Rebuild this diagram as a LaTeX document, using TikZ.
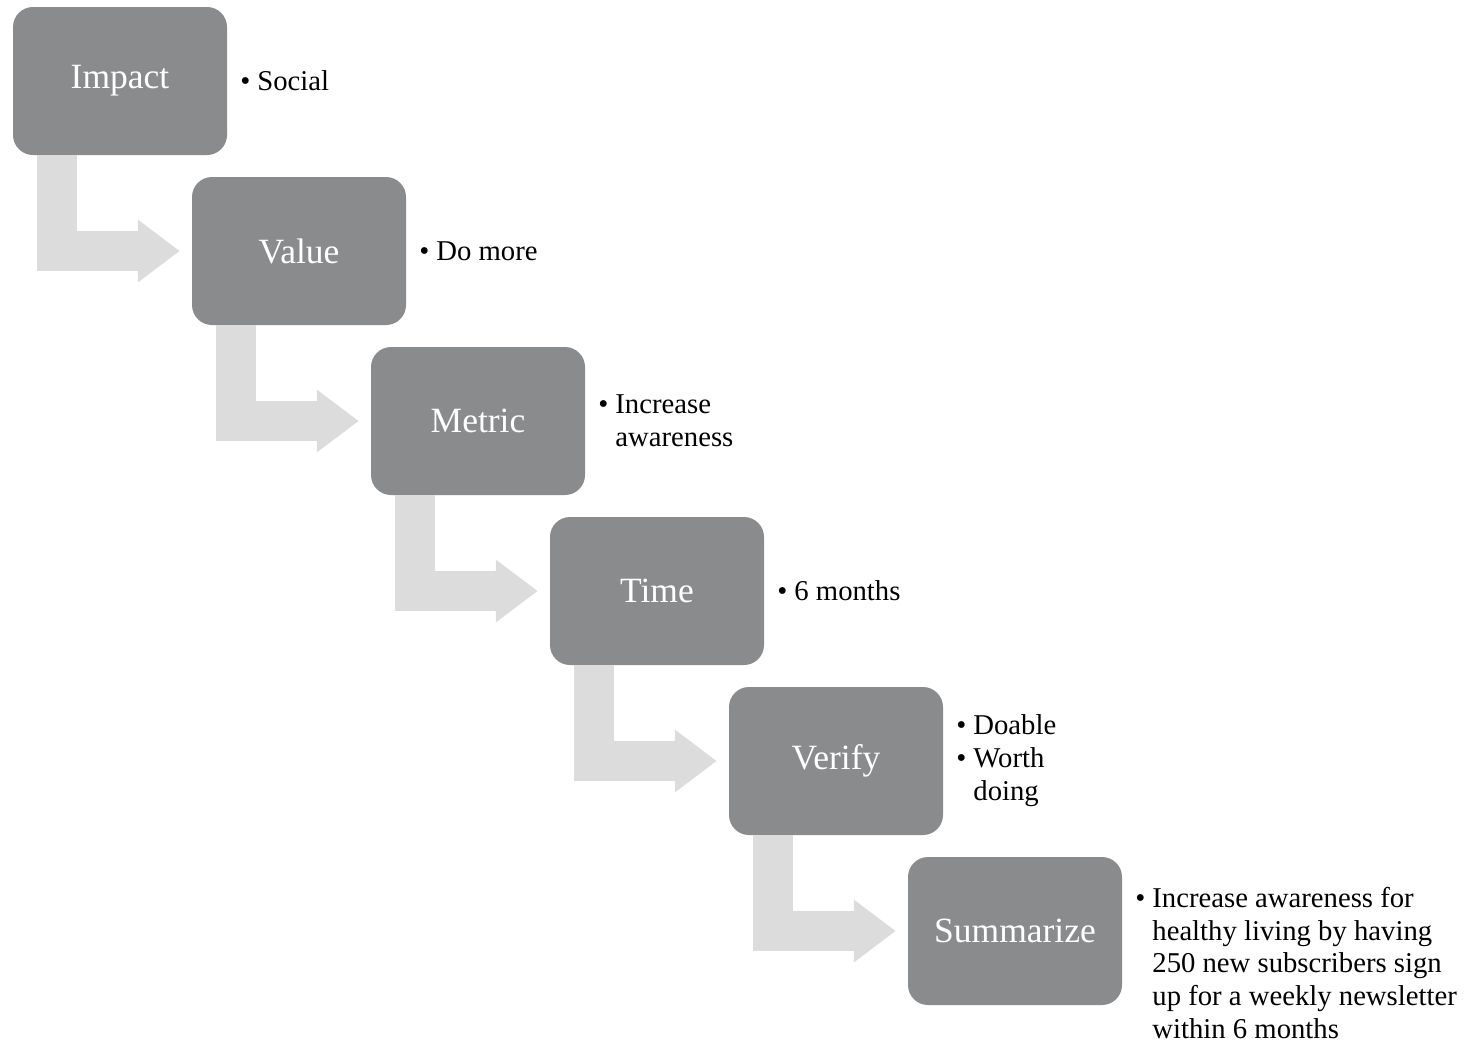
\documentclass[tikz,border=0pt]{standalone}
\usepackage{fontspec}
\setmainfont{Liberation Serif}
\usetikzlibrary{arrows.meta, calc, positioning}
\definecolor{boxgray}{RGB}{138,139,141}
\definecolor{flowgray}{RGB}{220,220,220}
\newcommand{\bul}{\makebox[17pt][l]{\textbullet}}
\newcommand{\hang}{\hspace*{17pt}}

\begin{document}
\begin{tikzpicture}[x=1pt, y=-1pt]
  \tikzset{stage/.style = {fill=boxgray, rounded corners=20pt, minimum width=214pt, minimum height=148pt,
      inner sep=0pt, text=white, font=\fontsize{35.5}{40}\selectfont}};
  \tikzset{note/.style = {anchor=west, inner sep=0pt, align=left, font=\fontsize{28.7}{33}\selectfont}};
  \tikzset{flow/.style = {draw=flowgray, line width=40pt, line join=miter,
      -{Triangle[length=42pt, width=60pt]}, shorten >=12pt}};

  \useasboundingbox (0,0) rectangle (1470,1039);

  \node[stage] (impact)    at (120,81)  {Impact};
  \node[stage] (value)     at (299,251) {Value};
  \node[stage] (metric)    at (478,421) {Metric};
  \node[stage] (time)      at (657,591) {Time};
  \node[stage] (verify)    at (836,761) {Verify};
  \node[stage] (summarize) at (1015,931) {Summarize};

  % bent arrows between the stages
  \draw[flow] ($(impact.south west)+(44,0)$) |- (value.west);
  \draw[flow] ($(value.south west)+(44,0)$)  |- (metric.west);
  \draw[flow] ($(metric.south west)+(44,0)$) |- (time.west);
  \draw[flow] ($(time.south west)+(44,0)$)   |- (verify.west);
  \draw[flow] ($(verify.south west)+(44,0)$) |- (summarize.west);

  % notes
  \node[note] (impactnote)    at ($(impact.east)+(13,0)$)    {\bul Social};
  \node[note] (valuenote)     at ($(value.east)+(13,0)$)     {\bul Do more};
  \node[note] (metricnote)    at ($(metric.east)+(13,0)$)    {\bul Increase\\\hang awareness};
  \node[note] (timenote)      at ($(time.east)+(13,0)$)      {\bul 6 months};
  \node[note] (verifynote)    at ($(verify.east)+(13,0)$)    {\bul Doable\\\bul Worth\\\hang doing};
  \node[note, yshift=-32pt, font=\fontsize{28.7}{32.6}\selectfont] (summarizenote) at ($(summarize.east)+(13,0)$)
    {\bul Increase awareness for\\\hang healthy living by having\\\hang 250 new subscribers sign\\\hang up for a weekly newsletter\\\hang within 6 months};
\end{tikzpicture}
\end{document}
